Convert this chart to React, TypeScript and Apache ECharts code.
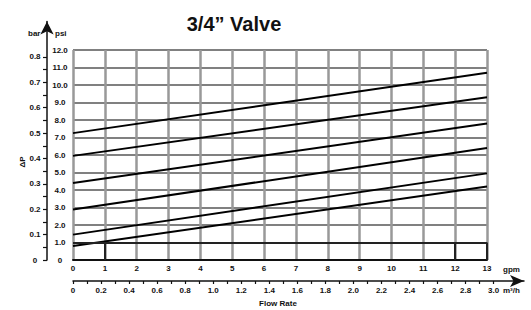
import React, { useEffect, useRef } from "react";
import * as echarts from "echarts";

// ---- data ----
const gpmPoints = [0, 13];
const curve1 = [7.25, 10.7];
const curve2 = [5.95, 9.3];
const curve3 = [4.4, 7.8];
const curve4 = [2.88, 6.4];
const curve5 = [1.45, 4.95];
const curve6 = [0.8, 4.2];
const curves = [curve1, curve2, curve3, curve4, curve5, curve6];

const barTickValues = [0, 0.05, 0.1, 0.15, 0.2, 0.25, 0.3, 0.35, 0.4, 0.45, 0.5, 0.55, 0.6, 0.65, 0.7, 0.75, 0.8];
const barLabelValues = [0, 0.1, 0.2, 0.3, 0.4, 0.5, 0.6, 0.7, 0.8];
const m3hTickValues = [0, 0.1, 0.2, 0.3, 0.4, 0.5, 0.6, 0.7, 0.8, 0.9, 1.0, 1.1, 1.2, 1.3, 1.4, 1.5, 1.6, 1.7, 1.8, 1.9, 2.0, 2.1, 2.2, 2.3, 2.4, 2.5, 2.6, 2.7, 2.8, 2.9, 3.0];
const m3hLabelValues = [0, 0.2, 0.4, 0.6, 0.8, 1.0, 1.2, 1.4, 1.6, 1.8, 2.0, 2.2, 2.4, 2.6, 2.8, 3.0];
// bottom box (0-1 psi) dark segments, in [gpm, psi]
const boxSegments = [
  [[1, 0], [1, 1]],
  [[12, 0], [12, 1]],
  [[13, 0], [13, 1]],
  [[0, 1], [13, 1]],
];

// unit conversions
const PSI_PER_BAR = 14.5038;
const GPM_PER_M3H = 4.4029;

// layout
const W = 531;
const H = 310;
const G_LEFT = 73;
const G_RIGHT = 44;
const G_TOP = 50;
const G_BOTTOM = 50;
const PSI_MAX = 12;
const GPM_MAX = 13;
const pxPerPsi = (H - G_TOP - G_BOTTOM) / PSI_MAX;
const pxPerGpm = (W - G_LEFT - G_RIGHT) / GPM_MAX;
const BAR_TOP = 21.5;
const barMax = (H - G_BOTTOM - BAR_TOP) / (pxPerPsi * PSI_PER_BAR);
const M3H_RIGHT = 7;
const M3H_BOTTOM = 29;
const m3hMax = (W - G_LEFT - M3H_RIGHT) / (pxPerGpm * GPM_PER_M3H);

const FONT = "Liberation Sans, Arial, sans-serif";
const fmt1 = (v: number) => (v === 0 ? "0" : v.toFixed(1));

export default function App() {
  const ref = useRef<HTMLDivElement>(null);
  useEffect(() => {
    if (!ref.current) return;
    const chart = echarts.init(ref.current, undefined, { renderer: "svg" });
    const labelStyle = { fontFamily: FONT, fontSize: 8, fontWeight: "bold" as const, color: "#111" };
    chart.setOption({
      animation: false,
      backgroundColor: "#fff",
      title: {
        text: "3/4\u201D Valve",
        left: 229,
        top: 9,
        textAlign: "center",
        textStyle: { fontFamily: FONT, fontSize: 20, fontWeight: "bold", color: "#111" },
      },
      grid: [
        { left: G_LEFT, right: G_RIGHT, top: G_TOP, bottom: G_BOTTOM },
        { left: 47, width: 1, top: BAR_TOP, bottom: G_BOTTOM },
        { left: G_LEFT, right: M3H_RIGHT, top: H - M3H_BOTTOM - 1, bottom: M3H_BOTTOM },
      ],
      xAxis: [
        {
          type: "value",
          gridIndex: 0,
          min: 0,
          max: GPM_MAX,
          interval: 1,
          axisLine: { show: true, lineStyle: { color: "#111", width: 2 } },
          axisTick: { show: false },
          axisLabel: { ...labelStyle, margin: 4 },
          splitLine: { show: true, lineStyle: { color: "#999999", width: 2.5 } },
          name: "gpm",
          nameLocation: "end",
          nameGap: 16,
          nameTextStyle: { ...labelStyle, verticalAlign: "top", padding: [5, 0, 0, 0] },
        },
        {
          type: "value",
          gridIndex: 1,
          show: false,
        },
        {
          type: "value",
          gridIndex: 2,
          min: 0,
          max: m3hMax,
          axisLine: {
            show: true,
            lineStyle: { color: "#111", width: 1.5 },
            symbol: ["none", "arrow"],
            symbolSize: [9, 14],
          },
          axisTick: { show: true, length: 3, customValues: m3hTickValues, lineStyle: { color: "#111", width: 1.2 } },
          axisLabel: { ...labelStyle, margin: 5, customValues: m3hLabelValues, formatter: fmt1 },
          splitLine: { show: false },
        },
      ],
      yAxis: [
        {
          type: "value",
          gridIndex: 0,
          min: 0,
          max: PSI_MAX,
          interval: 1,
          axisLine: { show: false },
          axisTick: { show: false },
          axisLabel: { ...labelStyle, margin: 13, align: "center", formatter: fmt1 },
          splitLine: { show: true, lineStyle: { color: "#808080", width: 2 } },
        },
        {
          type: "value",
          gridIndex: 1,
          min: 0,
          max: barMax,
          axisLine: {
            show: true,
            lineStyle: { color: "#111", width: 1.5 },
            symbol: ["none", "arrow"],
            symbolSize: [10, 13],
          },
          axisTick: { show: true, length: 4, customValues: barTickValues, lineStyle: { color: "#111", width: 1.2 } },
          axisLabel: { ...labelStyle, margin: 12, align: "center", customValues: barLabelValues, formatter: fmt1 },
          splitLine: { show: false },
        },
        {
          type: "value",
          gridIndex: 2,
          show: false,
        },
      ],
      series: [
        ...curves.map((c, i) => ({
          type: "line",
          name: "curve" + (i + 1),
          xAxisIndex: 0,
          yAxisIndex: 0,
          data: gpmPoints.map((g, j) => [g, c[j]]),
          symbol: "none",
          lineStyle: { color: "#000", width: 2 },
          silent: true,
        })),
        {
          type: "line",
          name: "box",
          xAxisIndex: 0,
          yAxisIndex: 0,
          data: [],
          markLine: {
            silent: true,
            symbol: ["none", "none"],
            label: { show: false },
            lineStyle: { color: "#222", width: 2, type: "solid" },
            data: boxSegments.map((s) => [{ coord: s[0] }, { coord: s[1] }]),
          },
        },
      ],
      graphic: [
        { type: "text", left: 28, top: 29, style: { text: "bar", font: `bold 8px ${FONT}`, fill: "#111" } },
        { type: "text", left: 55, top: 29, style: { text: "psi", font: `bold 8px ${FONT}`, fill: "#111" } },
        {
          type: "text",
          x: 22,
          y: 162,
          rotation: Math.PI / 2,
          style: { text: "\u0394P", font: `bold 8px ${FONT}`, fill: "#111", align: "center", verticalAlign: "middle" },
        },
        {
          type: "text",
          x: 278,
          y: 303,
          style: { text: "Flow Rate", font: `bold 8px ${FONT}`, fill: "#111", align: "center", verticalAlign: "middle" },
        },
        {
          type: "text",
          x: 503,
          y: 290,
          style: { text: "m\u00B3/h", font: `bold 8px ${FONT}`, fill: "#111", align: "left", verticalAlign: "middle" },
        },
      ],
    });
    return () => chart.dispose();
  }, []);
  return <div ref={ref} style={{ position: "fixed", left: 0, top: 0, width: W, height: H, background: "#fff" }} />;
}
